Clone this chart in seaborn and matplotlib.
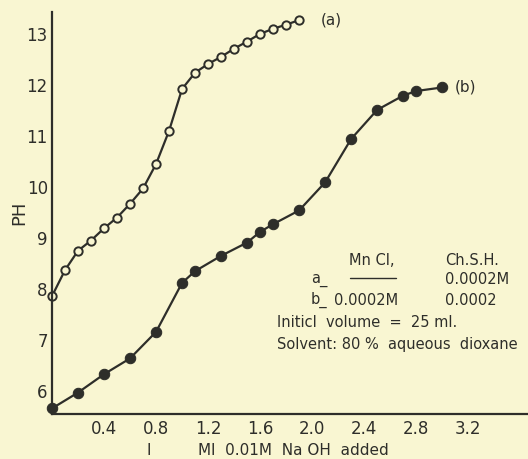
import matplotlib
matplotlib.use("Agg")
import matplotlib.pyplot as plt
import seaborn as sns
import pandas as pd

# curve (a): ligand alone
vol_a = [0.0, 0.1, 0.2, 0.3, 0.4, 0.5, 0.6, 0.7, 0.8, 0.9, 1.0, 1.1, 1.2,
         1.3, 1.4, 1.5, 1.6, 1.7, 1.8, 1.9]
ph_a = [7.86, 8.37, 8.75, 8.95, 9.19, 9.40, 9.67, 9.97, 10.45, 11.10, 11.92,
        12.24, 12.41, 12.55, 12.71, 12.85, 13.00, 13.10, 13.18, 13.27]

# curve (b): MnCl2 + ligand
vol_b = [0.0, 0.2, 0.4, 0.6, 0.8, 1.0, 1.1, 1.3, 1.5, 1.6, 1.7, 1.9, 2.1,
         2.3, 2.5, 2.7, 2.8, 3.0]
ph_b = [5.66, 5.97, 6.33, 6.64, 7.16, 8.12, 8.35, 8.65, 8.91, 9.12, 9.27,
        9.54, 10.09, 10.94, 11.51, 11.79, 11.88, 11.95]

x_ticks = [0.4, 0.8, 1.2, 1.6, 2.0, 2.4, 2.8, 3.2]
y_ticks = [6, 7, 8, 9, 10, 11, 12, 13]

bg = "#f9f6d2"
ink = "#2e2e2a"

sns.set_style("white")
plt.rcParams["font.family"] = ["DejaVu Sans"]

fig = plt.figure(figsize=(5.28, 4.59), dpi=100, facecolor=bg)
ax = fig.add_axes([0.0985, 0.098, 0.9015, 0.876])
ax.set_facecolor(bg)

df_a = pd.DataFrame({"vol": vol_a, "ph": ph_a})
df_b = pd.DataFrame({"vol": vol_b, "ph": ph_b})

sns.lineplot(data=df_a, x="vol", y="ph", ax=ax, color=ink, linewidth=1.6,
             marker="o", markersize=6, markerfacecolor=bg,
             markeredgecolor=ink, markeredgewidth=1.4, clip_on=False)
sns.lineplot(data=df_b, x="vol", y="ph", ax=ax, color=ink, linewidth=1.6,
             marker="o", markersize=7.5, markerfacecolor=ink,
             markeredgecolor=ink, clip_on=False)

ax.set_xlim(0, 3.66)
ax.set_ylim(5.55, 13.43)
ax.set_xticks(x_ticks)
ax.set_xticklabels([f"{v:.1f}" for v in x_ticks])
ax.set_yticks(y_ticks)
for side in ["top", "right"]:
    ax.spines[side].set_visible(False)
for side in ["left", "bottom"]:
    ax.spines[side].set_color(ink)
    ax.spines[side].set_linewidth(1.6)
ax.tick_params(direction="in", length=7, width=1.2, colors=ink,
               labelsize=12, labelcolor=ink)
ax.tick_params(axis="x", pad=4)
ax.tick_params(axis="y", pad=3)

ax.set_xlabel("")
ax.set_ylabel("PH", fontsize=13, color=ink)
ax.yaxis.set_label_coords(-0.05, 0.5)
fig.text(0.375, 0.018, "Ml  0.01M  Na OH  added", fontsize=11, color=ink,
         ha="left", va="center")
fig.text(0.278, 0.018, "I", fontsize=11, color=ink, ha="left", va="center")

# curve labels
ax.text(2.07, 13.28, "(a)", fontsize=11, color=ink, va="center")
ax.text(3.1, 11.95, "(b)", fontsize=11, color=ink, va="center")

# composition notes
fs = 10.5
ax.text(2.28, 8.55, "Mn Cl,", fontsize=fs, color=ink, va="center")
ax.text(3.02, 8.55, "Ch.S.H.", fontsize=fs, color=ink, va="center")
ax.text(1.99, 8.18, "a_", fontsize=fs, color=ink, va="center")
ax.plot([2.29, 2.645], [8.22, 8.22], color=ink, linewidth=1.0)
ax.text(3.02, 8.18, "0.0002M", fontsize=fs, color=ink, va="center")
ax.text(1.99, 7.78, "b_", fontsize=fs, color=ink, va="center")
ax.text(2.17, 7.78, "0.0002M", fontsize=fs, color=ink, va="center")
ax.text(3.02, 7.78, "0.0002", fontsize=fs, color=ink, va="center")
ax.text(1.73, 7.35, "Initicl  volume  =  25 ml.", fontsize=fs, color=ink,
        va="center")
ax.text(1.73, 6.92, "Solvent: 80 %  aqueous  dioxane", fontsize=fs,
        color=ink, va="center")

fig.savefig("out.png", dpi=100, facecolor=bg)
